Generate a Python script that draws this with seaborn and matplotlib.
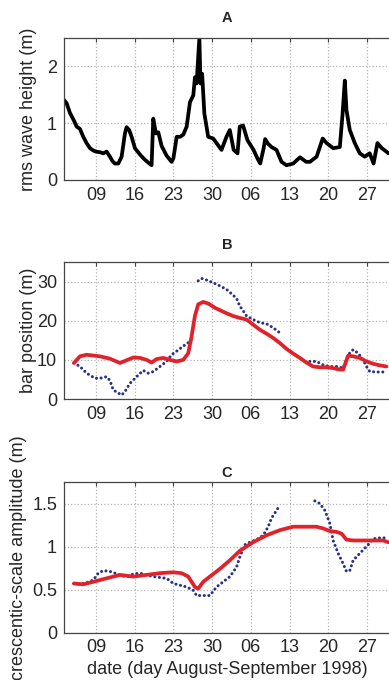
import numpy as np
import pandas as pd
import matplotlib
matplotlib.use("Agg")
import matplotlib.pyplot as plt
import seaborn as sns

# ---------------------------
# Data (day number: Aug 9 = 9, Sep 6 = 37, ...)
# ---------------------------
tick_days = [9, 16, 23, 30, 37, 44, 51, 58]
tick_labels = ["09", "16", "23", "30", "06", "13", "20", "27"]

wave_day = [3.22, 3.70, 4.30, 5.0, 5.51, 6.1, 6.71, 7.3, 7.92, 8.5, 9.0, 9.7, 10.33,
            10.93, 11.53, 12.0, 12.43, 13.04, 13.64, 14.24, 14.54, 15.0, 15.45, 16.05,
            16.95, 17.6, 18.16, 19.06, 19.36, 19.84, 20.27, 20.87, 21.77, 22.67, 23.0,
            23.6, 24.2, 24.8, 25.4, 26.0, 26.6, 26.9, 27.2, 27.7, 27.9, 28.2, 28.6,
            29.3, 30.2, 30.8, 31.7, 32.6, 33.2, 33.9, 34.6, 35.0, 35.6, 36.4, 37.5,
            38.2, 38.7, 39.3, 39.6, 40.1, 40.75, 41.65, 42.55, 43.46, 44.66, 45.9,
            47.0, 47.7, 48.9, 50.0, 50.7, 51.9, 53.1, 53.6, 54.0, 54.3, 54.9, 55.8,
            56.7, 57.6, 58.5, 59.2, 59.9, 60.7, 61.9]
wave_hrms = [1.41, 1.35, 1.18, 1.05, 0.94, 0.90, 0.76, 0.65, 0.56, 0.52, 0.50, 0.49, 0.47,
             0.50, 0.41, 0.33, 0.29, 0.29, 0.41, 0.82, 0.93, 0.88, 0.76, 0.56,
             0.45, 0.38, 0.33, 0.26, 1.08, 0.82, 0.84, 0.60, 0.43, 0.32, 0.38,
             0.76, 0.76, 0.80, 0.94, 1.37, 1.49, 1.81, 1.70, 2.50, 1.70, 1.87, 1.17,
             0.76, 0.73, 0.65, 0.53, 0.76, 0.88, 0.53, 0.47, 0.94, 0.96, 0.70, 0.53,
             0.38, 0.29, 0.55, 0.72, 0.64, 0.58, 0.53, 0.32, 0.26, 0.29, 0.40,
             0.32, 0.32, 0.41, 0.73, 0.65, 0.56, 0.58, 1.17, 1.75, 1.23, 0.88, 0.65,
             0.47, 0.41, 0.47, 0.29, 0.65, 0.56, 0.47]

# bar position, observed (blue dots), with data gaps as segments
bar_obs_day = [5.02, 6.11, 7.31, 8.82, 9.72, 10.93, 11.53, 12.13, 13.64, 14.24, 15.14,
               16.35, 17.55, 18.46, 19.36, 20.57, 21.77, 22.67, 23.58, 24.78, 25.99, 26.47,
               27.49, 28.10, 29.0, 30.2, 31.41, 32.61, 33.82, 34.42, 35.02, 35.63, 36.23,
               37.43, 38.64, 39.84, 41.05, 42.25,
               47.67, 48.88, 50.08, 51.29, 52.49, 53.70, 54.60, 55.51, 56.41, 57.31,
               57.92, 58.52, 59.72, 61.23]
bar_obs_pos = [9.2, 8.3, 6.6, 5.3, 5.3, 5.7, 4.7, 2.3, 1.0, 1.9, 4.0,
               5.7, 7.3, 6.6, 7.0, 8.3, 9.6, 11.3, 12.2, 13.5, 14.7, 15.6,
               30.2, 30.8, 30.4, 29.7, 28.9, 28.0, 26.5, 25.7, 23.7, 22.5, 21.2,
               20.3, 19.5, 19.2, 18.2, 16.9,
               9.6, 9.6, 8.7, 8.3, 8.3, 7.9, 11.3, 12.6, 11.7, 10.0,
               8.3, 7.0, 6.9, 6.9]
bar_obs_seg = [0] * 22 + [1] * 16 + [2] * 14

# bar position, model (red line)
bar_mod_day = [5.02, 6.11, 7.31, 8.52, 9.72, 11.53, 13.34, 14.54, 15.75, 16.95, 18.16,
               19.06, 19.96, 21.17, 22.37, 23.58, 24.78, 25.69, 26.29, 26.89, 27.49,
               28.40, 29.30, 30.51, 31.71, 32.61, 33.82, 35.02, 36.23, 37.43, 38.64,
               39.84, 41.05, 42.25, 43.46, 44.66, 45.87, 47.07, 48.28, 49.48, 50.69,
               51.89, 53.10, 53.70, 54.60, 55.51, 56.71, 57.92, 59.12, 60.33, 61.53]
bar_mod_pos = [9.2, 10.9, 11.3, 11.1, 10.9, 10.3, 9.2, 9.9, 10.6, 10.5, 10.0,
               9.3, 10.2, 10.5, 10.0, 9.6, 10.0, 11.7, 16.0, 21.2, 24.2,
               24.8, 24.4, 23.3, 22.5, 21.9, 21.2, 20.7, 20.3, 19.0, 17.7,
               16.7, 15.6, 14.3, 12.8, 11.6, 10.5, 9.3, 8.3, 8.1, 8.1,
               7.9, 7.5, 7.5, 11.1, 10.9, 10.5, 9.6, 9.0, 8.6, 8.3]

# crescentic amplitude, observed (blue dots)
amp_obs_day = [5.02, 6.11, 7.31, 8.52, 9.42, 10.33, 11.53, 12.43, 13.64, 14.54, 15.75,
               16.95, 18.16, 19.36, 20.57, 21.77, 22.98, 24.18, 25.39, 26.59, 27.19,
               28.40, 29.60, 30.81, 32.01, 33.22, 34.42, 35.02, 35.93, 36.83, 38.04,
               39.24, 40.14, 40.75, 41.65, 42.25,
               48.58, 49.48, 50.39, 51.29, 51.89, 52.80, 53.70, 54.30, 54.90, 55.51,
               56.41, 57.31, 58.22, 59.12, 60.33, 61.23]
amp_obs_val = [0.57, 0.56, 0.58, 0.61, 0.69, 0.72, 0.71, 0.69, 0.66, 0.65, 0.68,
               0.69, 0.67, 0.65, 0.64, 0.63, 0.57, 0.55, 0.53, 0.49, 0.43,
               0.43, 0.43, 0.53, 0.59, 0.65, 0.76, 0.88, 1.02, 1.05, 1.08,
               1.13, 1.23, 1.33, 1.42, 1.48,
               1.53, 1.50, 1.42, 1.27, 1.07, 0.92, 0.80, 0.71, 0.72, 0.84,
               0.90, 0.96, 1.02, 1.09, 1.10, 1.10]
amp_obs_seg = [0] * 36 + [1] * 16

# crescentic amplitude, model (red line)
amp_mod_day = [5.02, 6.71, 8.52, 10.93, 13.34, 15.75, 18.16, 20.57, 22.98, 24.48, 25.69,
               26.89, 27.49, 28.40, 29.60, 31.41, 33.22, 35.02, 37.43, 39.84, 42.25,
               44.66, 47.07, 48.88, 50.08, 51.29, 52.49, 53.40, 54.30, 55.51, 57.31,
               59.12, 60.93, 61.83]
amp_mod_val = [0.57, 0.56, 0.59, 0.63, 0.67, 0.65, 0.67, 0.69, 0.70, 0.69, 0.65,
               0.53, 0.51, 0.59, 0.65, 0.74, 0.84, 0.95, 1.05, 1.13, 1.19,
               1.23, 1.23, 1.23, 1.21, 1.18, 1.17, 1.15, 1.08, 1.07, 1.07,
               1.07, 1.07, 1.05]

# ---------------------------
# Style
# ---------------------------
sns.set_style("white")
plt.rcParams["font.family"] = ["Liberation Sans", "DejaVu Sans"]

BLUE = "#27318a"
RED = "#e0232b"

W, H = 389, 680
fig = plt.figure(figsize=(W / 100, H / 100), dpi=100)

x0, x1 = 3.22, 65.0
px_per_day = 5.53
left = 64 / W
width = (x1 - x0) * px_per_day / W


def make_axes(top_px, bottom_px):
    return fig.add_axes([left, 1 - bottom_px / H, width, (bottom_px - top_px) / H])


def style_axes(ax, ylim, yticks, yticklabels, title, title_y, ylabel, ylabel_x):
    ax.set_xlim(x0, x1)
    ax.set_ylim(*ylim)
    ax.set_xticks(tick_days)
    ax.set_xticklabels(tick_labels)
    ax.set_yticks(yticks)
    ax.set_yticklabels(yticklabels)
    ax.grid(True, linestyle=":", color="#b4b4b4", linewidth=0.9)
    ax.tick_params(direction="in", top=True, right=False, length=3, width=0.8,
                   labelsize=13, pad=5, color="#444444")
    for side in ["top", "bottom", "left"]:
        ax.spines[side].set_color("#444444")
        ax.spines[side].set_linewidth(0.9)
    ax.spines["right"].set_visible(False)
    ax.set_xlabel("")
    ax.set_ylabel(ylabel, fontsize=13, va="center")
    ax.yaxis.set_label_coords(ylabel_x, 0.5)
    ax.text(0.477, title_y, title, transform=ax.transAxes, ha="center", va="center",
            fontsize=10.5, fontweight="bold")


# ---------------------------
# Panel A
# ---------------------------
axA = make_axes(38, 180)
sns.lineplot(x=wave_day, y=wave_hrms, ax=axA, color="black", linewidth=2.7,
             estimator=None, sort=False)
style_axes(axA, (0, 2.5), [0, 1, 2], ["0", "1", "2"], "A", 1.141,
           "rms wave height (m)", -0.105)

# ---------------------------
# Panel B
# ---------------------------
axB = make_axes(262, 399)
bar_obs = pd.DataFrame({"day": bar_obs_day, "pos": bar_obs_pos, "seg": bar_obs_seg})
sns.lineplot(data=bar_obs, x="day", y="pos", units="seg", estimator=None, sort=False,
             ax=axB, color=BLUE, linewidth=2.2, linestyle=(0, (0.01, 1.5)),
             dash_capstyle="round")
sns.lineplot(x=bar_mod_day, y=bar_mod_pos, ax=axB, color=RED, linewidth=2.7,
             estimator=None, sort=False)
style_axes(axB, (0, 35), [0, 10, 20, 30], ["0", "10", "20", "30"], "B", 1.124,
           "bar position (m)", -0.105)

# ---------------------------
# Panel C
# ---------------------------
axC = make_axes(482, 632.5)
amp_obs = pd.DataFrame({"day": amp_obs_day, "amp": amp_obs_val, "seg": amp_obs_seg})
sns.lineplot(data=amp_obs, x="day", y="amp", units="seg", estimator=None, sort=False,
             ax=axC, color=BLUE, linewidth=2.2, linestyle=(0, (0.01, 1.5)),
             dash_capstyle="round")
sns.lineplot(x=amp_mod_day, y=amp_mod_val, ax=axC, color=RED, linewidth=2.7,
             estimator=None, sort=False)
style_axes(axC, (0, 1.75), [0, 0.5, 1, 1.5], ["0", "0.5", "1", "1.5"], "C", 1.06,
           "crescentic-scale amplitude (m)", -0.132)
axC.set_xlabel("date (day August-September 1998)", fontsize=13)
axC.xaxis.set_label_coords(0.479, -0.249)
axC.xaxis.label.set_va("center")

fig.savefig("out.png", dpi=100)
